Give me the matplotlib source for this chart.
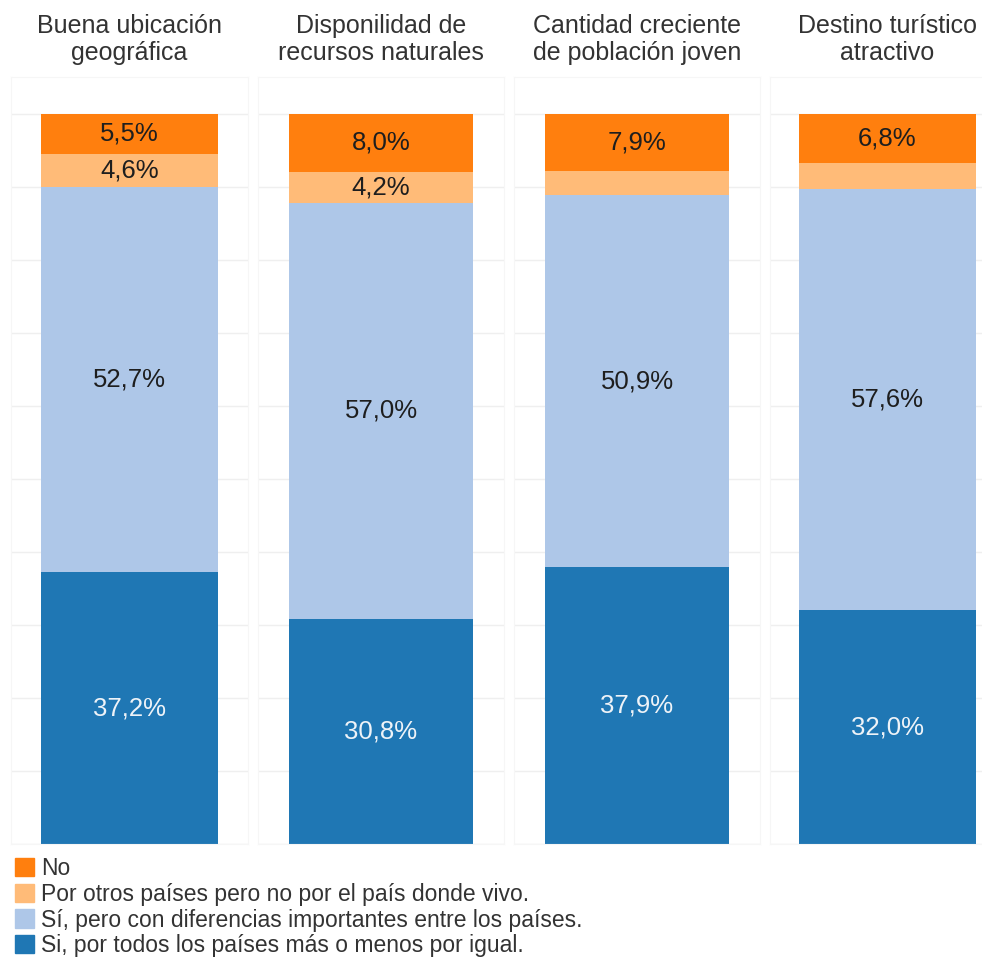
import matplotlib.pyplot as plt
from matplotlib.patches import Patch

plt.rcParams['font.family'] = ['Liberation Sans', 'DejaVu Sans']

# data
titles = ['Buena ubicación\ngeográfica', 'Disponilidad de\nrecursos naturales',
          'Cantidad creciente\nde población joven', 'Destino turístico\natractivo']
series = ['Si, por todos los países más o menos por igual.',
          'Sí, pero con diferencias importantes entre los países.',
          'Por otros países pero no por el país donde vivo.',
          'No']
si_todos = [37.2, 30.8, 37.9, 32.0]
si_diferencias = [52.7, 57.0, 50.9, 57.6]
otros_paises = [4.6, 4.2, 3.3, 3.6]
no = [5.5, 8.0, 7.9, 6.8]
values = [si_todos, si_diferencias, otros_paises, no]
colors = ['#1f77b4', '#aec7e8', '#ffbb78', '#ff7f0e']
text_colors = ['#eef3f8', '#1e1e1e', '#1e1e1e', '#1e1e1e']

W, H = 982, 961
fig = plt.figure(figsize=(W / 100, H / 100), dpi=100)

# panel extents in pixels (left, right)
panels = [(11, 248), (258, 504), (514, 760), (770, 1005)]
top_px, bottom_px = 77, 844

for i, (x0, x1) in enumerate(panels):
    ax = fig.add_axes([x0 / W, (H - bottom_px) / H, (x1 - x0) / W, (bottom_px - top_px) / H])
    bottom = 0
    for k in range(len(values)):
        v = values[k][i]
        ax.bar(0.5, v, width=0.75, bottom=bottom, color=colors[k], zorder=2)
        if v >= 4:
            ax.text(0.5, bottom + v / 2, f'{v:.1f}%'.replace('.', ','),
                    ha='center', va='center', fontsize=18.5, color=text_colors[k], zorder=3)
        bottom += v
    ax.set_xlim(0, 1)
    ax.set_ylim(0, 105)
    ax.set_yticks(range(0, 101, 10))
    ax.grid(axis='y', color='#efefef', linewidth=1, zorder=0)
    ax.tick_params(left=False, bottom=False, labelleft=False, labelbottom=False)
    for s in ax.spines.values():
        s.set_color('#f6f6f6')
    ax.set_title(titles[i], fontsize=18, color='#333333', pad=12, linespacing=1.17)

handles = [Patch(color=colors[k]) for k in [3, 2, 1, 0]]
labels = [series[k] for k in [3, 2, 1, 0]]
fig.legend(handles, labels, loc='upper left', bbox_to_anchor=(15 / W, 1 - 857 / H),
           frameon=False, fontsize=16.5, handlelength=0.85, handleheight=0.85,
           handletextpad=0.3, labelspacing=0.12, borderpad=0, borderaxespad=0,
           labelcolor='#333333')

fig.savefig('out.png', dpi=100)
